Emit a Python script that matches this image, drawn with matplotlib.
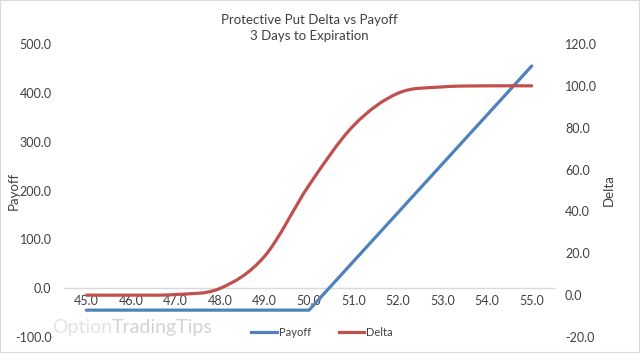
import matplotlib
matplotlib.use("Agg")
import matplotlib.pyplot as plt
from matplotlib.lines import Line2D
from matplotlib.patches import PathPatch, Rectangle
from matplotlib.path import Path

plt.rcParams["font.family"] = ["Lato", "DejaVu Sans"]

strikes = [45.0, 46.0, 47.0, 48.0, 49.0, 50.0, 51.0, 52.0, 53.0, 54.0, 55.0]
payoff = [-45, -45, -45, -45, -45, -45, 55, 155, 255, 355, 455]
delta = [0.0, 0.0, 0.3, 3.2, 18.5, 52.5, 81.0, 96.5, 99.5, 100.0, 100.0]
left_ticks = [-100, 0, 100, 200, 300, 400, 500]
right_ticks = [-20, 0, 20, 40, 60, 80, 100, 120]

BLUE = "#4F81BD"
RED = "#C0504D"
TEXT = "#404040"


def smooth_path(xs, ys):
    # excel-style smoothed line: cubic bezier through every point
    verts = [(xs[0], ys[0])]
    codes = [Path.MOVETO]
    n = len(xs)
    for i in range(n - 1):
        a = max(i - 1, 0)
        b = min(i + 2, n - 1)
        c1 = (xs[i] + (xs[i + 1] - xs[a]) / 6, ys[i] + (ys[i + 1] - ys[a]) / 6)
        c2 = (xs[i + 1] - (xs[b] - xs[i]) / 6, ys[i + 1] - (ys[b] - ys[i]) / 6)
        verts += [c1, c2, (xs[i + 1], ys[i + 1])]
        codes += [Path.CURVE4] * 3
    return Path(verts, codes)


fig = plt.figure(figsize=(6.4, 3.53), dpi=100)
fig.patches.append(Rectangle((0, 0), 1, 1, transform=fig.transFigure, fill=False,
                             edgecolor="#D9D9D9", linewidth=1.5))

# faint watermark behind the chart
opt = fig.text(52 / 640, 1 - 327 / 353, "Option", fontsize=14, color="#E3E3E3", va="center")
fig.canvas.draw()
bb = opt.get_window_extent()
fig.text(bb.x1 / fig.bbox.width, 1 - 327 / 353, "TradingTips", fontsize=14, color="#D3D3D3",
         va="center")

ax = fig.add_axes([64 / 640, 16 / 353, 490 / 640, 293 / 353])
ax.patch.set_alpha(0)
ax2 = ax.twinx()

ax.plot(strikes, payoff, color=BLUE, linewidth=2.3, solid_capstyle="round", zorder=3)
ax2.add_patch(PathPatch(smooth_path(strikes, delta), fill=False, edgecolor=RED,
                        linewidth=2.3, capstyle="round", zorder=3))

ax.set_xlim(44.5, 55.5)
ax.set_ylim(-100, 500)
ax2.set_ylim(-20, 120)
ax.set_xticks(strikes)
ax.set_xticklabels([f"{s:.1f}" for s in strikes])
ax.set_yticks(left_ticks)
ax.set_yticklabels([f"{v:.1f}" for v in left_ticks])
ax2.set_yticks(right_ticks)
ax2.set_yticklabels([f"{v:.1f}" for v in right_ticks])

for a in (ax, ax2):
    for side in ("top", "left", "right", "bottom"):
        a.spines[side].set_visible(False)
ax.spines["bottom"].set_visible(True)
ax.spines["bottom"].set_position(("data", 0))
ax.spines["bottom"].set_color("#D9D9D9")
ax.spines["bottom"].set_linewidth(1)

ax.tick_params(axis="x", length=0, pad=5, labelsize=9, labelcolor=TEXT)
ax.tick_params(axis="y", length=0, pad=9, labelsize=9, labelcolor=TEXT)
ax2.tick_params(axis="y", length=0, pad=8, labelsize=9, labelcolor=TEXT)

ax.set_ylabel("Payoff", fontsize=9.5, color=TEXT)
ax.yaxis.set_label_coords(-0.09, 0.5)
ax2.set_ylabel("Delta", fontsize=9.5, color=TEXT, rotation=90)
ax2.yaxis.set_label_coords(1.10, 0.5)

fig.text(309 / 640, 1 - 28 / 353, "Protective Put Delta vs Payoff\n3 Days to Expiration",
         ha="center", va="center", fontsize=9.5, color=TEXT, linespacing=1.35)

handles = [Line2D([], [], color=BLUE, linewidth=2.3), Line2D([], [], color=RED, linewidth=2.3)]
fig.legend(handles, ["Payoff", "Delta"], loc="center", bbox_to_anchor=(322 / 640, 1 - 332 / 353),
           ncol=2, frameon=False, fontsize=8, handlelength=2.3, handletextpad=0.2,
           columnspacing=2.5, labelcolor=TEXT)

fig.savefig("out.png", dpi=100, facecolor="white")
